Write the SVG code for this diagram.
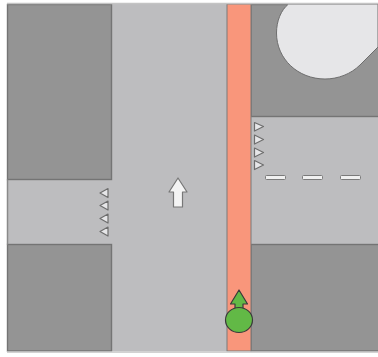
<svg xmlns="http://www.w3.org/2000/svg" width="378" height="357" viewBox="0 0 378 357">
<style>
.b{fill:#949494;stroke:#747474;stroke-width:1.400}
.t{fill:#e6e6e8;stroke:#6e6e6e;stroke-width:1.2;stroke-linejoin:round}
.d{fill:#f0f0f0;stroke:#7a7a7a;stroke-width:1}
</style>
<rect width="378" height="357" fill="#fff"/>
<rect x="7.500" y="4" width="370.500" height="347" fill="#bdbdbf"/>
<g id="blocks">
<rect class="b" x="7.500" y="4.500" width="104" height="175"/>
<rect class="b" x="7.500" y="244.500" width="104" height="106.500"/>
<rect class="b" x="251" y="4.500" width="128" height="112"/>
<rect class="b" x="251" y="244.500" width="128" height="106.500"/>
<path d="M288.500 4C281 10 276.500 21 276.500 33C276.500 59 298 79 325 79C338 79 351 74 360 65L378 47V4Z" fill="#e6e6e8" stroke="#6e6e6e" stroke-width="1"/>
</g>
<g id="lane"><rect x="227" y="4" width="24" height="347" fill="#f9967b" stroke="#7a7a7a" stroke-width="1"/></g>
<path d="M7.500 179.500V244.500" stroke="#8a8a8a" stroke-width="1.500" fill="none"/>
<path d="M7 3.500H378M7 352H378" stroke="#c4c4c4" stroke-width="1.500" fill="none"/>
<g id="triangles-right">
<path class="t" d="M254.500 122.500L263.500 126.500L254.500 131Z"/>
<path class="t" d="M254.500 135L263.500 139.500L254.500 144Z"/>
<path class="t" d="M254.500 148L263.500 152.500L254.500 157Z"/>
<path class="t" d="M254.500 160.500L263.500 165L254.500 169.500Z"/>
</g>
<g id="triangles-left">
<path class="t" d="M108 188.500L100 193L108 197.500Z"/>
<path class="t" d="M108 201L100 205.500L108 210Z"/>
<path class="t" d="M108 214L100 218.500L108 223Z"/>
<path class="t" d="M108 227L100 231.500L108 236Z"/>
</g>
<g id="dashes">
<rect class="d" x="265.500" y="175.500" width="20" height="4" rx="1"/>
<rect class="d" x="302.500" y="175.500" width="20" height="4" rx="1"/>
<rect class="d" x="340.500" y="175.500" width="20" height="4" rx="1"/>
</g>
<g id="white-arrow"><path d="M178 178L187 192H182.500V207H173.500V192H169Z" fill="#f4f4f4" stroke="#777" stroke-width="1.200" stroke-linejoin="round"/></g>
<g id="vehicle">
<path d="M239 290L247.500 304H243V312H235V304H230.500Z" fill="#62b946" stroke="#3a3a3a" stroke-width="1.200" stroke-linejoin="round"/>
<ellipse cx="239" cy="320" rx="13.500" ry="12.500" fill="#62b946" stroke="#3a3a3a" stroke-width="1.200"/>
</g>
</svg>
